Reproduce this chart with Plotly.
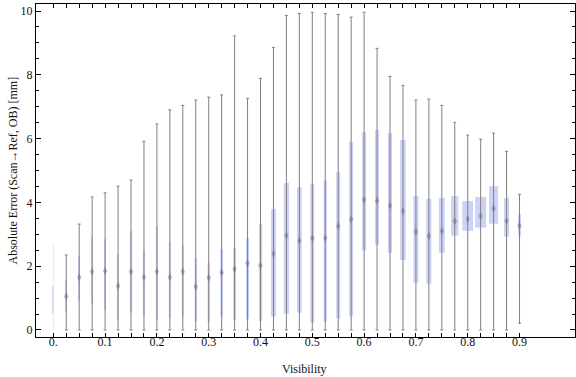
import plotly.graph_objects as go

visibility = [round(0.025 * i, 3) for i in range(37)]
wmin = [0, 0, 0, 0, 0, 0, 0, 0, 0, 0, 0, 0, 0, 0, 0, 0, 0, 0, 0, 0, 0, 0, 0, 0,
        0, 0, 0, 0, 0, 0, 0, 0, 0, 0, 0, 0, 0.21]
q1 = [0.52, 0.57, 0.92, 0.84, 0.61, 0.29, 0.54, 0.44, 0.31, 0.39, 0.42, 0.28, 0.25,
      0.42, 0.31, 0.34, 0.28, 0.42, 0.51, 0.54, 0.23, 0.25, 0.36, 0.42, 2.49, 2.67,
      2.42, 2.19, 1.48, 1.45, 2.42, 2.96, 3.11, 3.21, 3.33, 2.93, 2.93]
median = [0.95, 1.05, 1.65, 1.83, 1.85, 1.38, 1.83, 1.65, 1.83, 1.65, 1.83, 1.36, 1.64,
          1.80, 1.91, 2.09, 2.02, 2.39, 2.96, 2.80, 2.88, 2.88, 3.26, 3.47, 4.08, 4.05,
          3.90, 3.73, 3.08, 2.95, 3.10, 3.41, 3.48, 3.57, 3.81, 3.42, 3.27]
q3 = [1.37, 1.55, 2.30, 2.93, 2.85, 2.38, 3.11, 2.51, 3.26, 2.76, 2.66, 2.24, 2.11,
      2.54, 2.58, 2.88, 3.32, 3.79, 4.61, 4.48, 4.59, 4.68, 4.95, 5.89, 6.21, 6.27,
      6.17, 5.96, 4.20, 4.11, 4.14, 4.20, 4.04, 4.17, 4.51, 4.14, 3.64]
wmax = [2.72, 2.35, 3.32, 4.17, 4.30, 4.51, 4.70, 5.92, 6.46, 6.90, 7.04, 7.21, 7.30,
        7.37, 9.22, 7.26, 7.89, 8.86, 9.86, 9.92, 9.96, 9.92, 9.89, 9.81, 9.96, 8.83,
        7.95, 7.67, 7.21, 7.24, 7.04, 6.51, 6.11, 5.98, 6.17, 5.60, 4.25]
# relative box width (fraction of category spacing), reflects sample weight
rel_width = [0.05, 0.12, 0.12, 0.12, 0.12, 0.12, 0.18, 0.16, 0.16, 0.16, 0.16, 0.18, 0.18,
             0.21, 0.21, 0.23, 0.25, 0.39, 0.41, 0.36, 0.31, 0.25, 0.31, 0.31, 0.31, 0.31,
             0.31, 0.44, 0.39, 0.39, 0.46, 0.56, 0.83, 0.85, 0.69, 0.39, 0.21]
x_labels = {0.0: "0.", 0.1: "0.1", 0.2: "0.2", 0.3: "0.3", 0.4: "0.4", 0.5: "0.5",
            0.6: "0.6", 0.7: "0.7", 0.8: "0.8", 0.9: "0.9"}
x_title = "Visibility"
y_title = "Absolute Error (Scan\u2192Ref, OB) [mm]"

step = 0.025
cap = 0.0029
font = "Liberation Serif"

wx, wy, cx, cy = [], [], [], []
for i, x in enumerate(visibility):
    if i == 0:
        continue
    wx += [x, x, None]
    wy += [wmin[i], wmax[i], None]
    for v in (wmin[i], wmax[i]):
        cx += [x - cap, x + cap, None]
        cy += [v, v, None]

fig = go.Figure()
fig.add_trace(go.Scatter(x=[visibility[0], visibility[0]], y=[wmin[0], wmax[0]],
                         mode="lines", line=dict(color="#e8e8e8", width=1),
                         hoverinfo="skip", showlegend=False))
fig.add_trace(go.Scatter(x=wx, y=wy, mode="lines", line=dict(color="#808080", width=1),
                         hoverinfo="skip", showlegend=False))
fig.add_trace(go.Scatter(x=cx, y=cy, mode="lines", line=dict(color="#808080", width=1),
                         hoverinfo="skip", showlegend=False))
fig.add_trace(go.Bar(x=visibility, base=q1, y=[b - a for a, b in zip(q1, q3)],
                     width=[w * step for w in rel_width],
                     marker=dict(color="rgb(205,211,246)", line=dict(width=0)),
                     showlegend=False))
fig.add_trace(go.Scatter(x=visibility[1:], y=median[1:], mode="markers",
                         marker=dict(symbol="diamond-tall", size=6,
                                     color="rgba(105,105,118,0.5)",
                                     line=dict(width=0)),
                         showlegend=False))

fig.update_layout(
    width=576, height=377,
    margin=dict(l=36, r=1, t=4, b=40),
    paper_bgcolor="white", plot_bgcolor="white",
    barmode="overlay",
    font=dict(family=font, size=12, color="#111"),
    xaxis=dict(range=[-0.0334, 1.0071], showgrid=False, zeroline=False,
               automargin=False,
               tickmode="array", tickvals=visibility,
               ticktext=[x_labels.get(round(v, 3), "") for v in visibility],
               ticks="inside", ticklen=4, tickcolor="black", tickwidth=1,
               showline=True, linecolor="black", linewidth=1, mirror="allticks",
               ticklabelstandoff=-6, tickfont=dict(size=12)),
    yaxis=dict(range=[-0.22, 10.22], showgrid=False, zeroline=False,
               automargin=False,
               tickmode="array", tickvals=[0, 2, 4, 6, 8, 10],
               ticks="inside", ticklen=5, tickcolor="black", tickwidth=1,
               minor=dict(dtick=0.5, tick0=0, ticks="inside", ticklen=3,
                          tickcolor="black", showgrid=False),
               showline=True, linecolor="black", linewidth=1, mirror="allticks",
               tickfont=dict(size=12)),
    annotations=[
        dict(text=x_title, xref="paper", yref="paper", x=(304 - 36) / 539,
             y=(337 - 369) / 333, xanchor="center", yanchor="middle",
             showarrow=False, font=dict(size=12, family=font, color="#111")),
        dict(text=y_title, xref="paper", yref="paper", x=(12 - 36) / 539,
             y=0.5, xanchor="center", yanchor="middle", textangle=-90,
             showarrow=False, font=dict(size=12, family=font, color="#111")),
    ],
)

fig.write_html("out.html", config={"displayModeBar": False},
               post_script="document.body.style.margin='0';document.body.style.padding='0';")
